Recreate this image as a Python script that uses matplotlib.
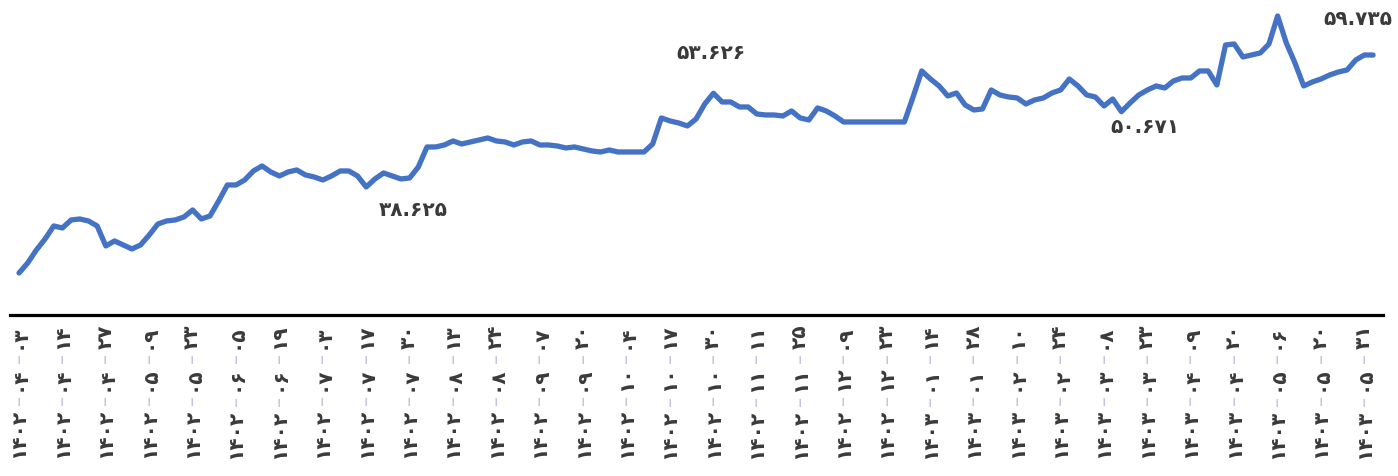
import matplotlib.pyplot as plt
from matplotlib.font_manager import FontProperties

# daily index values
values = [
    24.87, 26.47, 28.55, 30.31, 32.39, 32.07, 33.35, 33.51, 33.19, 32.39,
    29.19, 29.99, 29.35, 28.71, 29.35, 30.95, 32.71, 33.19, 33.35, 33.83,
    34.95, 33.51, 33.99, 36.39, 38.95, 38.95, 39.75, 41.19, 41.99, 41.03,
    40.39, 41.03, 41.35, 40.55, 40.23, 39.75, 40.39, 41.19, 41.19, 40.39,
    38.625, 39.91, 40.87, 40.39, 39.91, 40.07, 41.83, 45.03, 45.03, 45.35,
    45.99, 45.51, 45.83, 46.15, 46.47, 45.99, 45.83, 45.35, 45.83, 45.99,
    45.35, 45.35, 45.19, 44.87, 45.03, 44.71, 44.39, 44.23, 44.55, 44.23,
    44.23, 44.23, 44.23, 45.51, 49.67, 49.19, 48.87, 48.39, 49.51, 51.91,
    53.626, 52.23, 52.23, 51.43, 51.43, 50.31, 50.15, 50.15, 49.99, 50.79,
    49.67, 49.35, 51.27, 50.79, 49.99, 49.03, 49.03, 49.03, 49.03, 49.03,
    49.03, 49.03, 49.03, 53.03, 57.19, 55.91, 54.79, 53.19, 53.67, 51.75,
    50.95, 51.11, 54.15, 53.35, 53.03, 52.87, 51.91, 52.55, 52.87, 53.67,
    54.15, 55.91, 54.79, 53.35, 53.03, 51.59, 52.71, 50.671, 52.07, 53.35,
    54.15, 54.79, 54.47, 55.59, 56.07, 56.07, 57.19, 57.19, 54.95, 61.35,
    61.51, 59.43, 59.75, 60.07, 61.51, 65.99, 61.67, 58.47, 54.79, 55.43,
    55.91, 56.55, 57.03, 57.35, 58.95, 59.75, 59.735,
]

tick_step = 5
tick_labels = [
    '۱۴۰۲-۰۴-۰۳', '۱۴۰۲-۰۴-۱۴', '۱۴۰۲-۰۴-۲۷', '۱۴۰۲-۰۵-۰۹', '۱۴۰۲-۰۵-۲۳',
    '۱۴۰۲-۰۶-۰۵', '۱۴۰۲-۰۶-۱۹', '۱۴۰۲-۰۷-۰۳', '۱۴۰۲-۰۷-۱۷', '۱۴۰۲-۰۷-۳۰',
    '۱۴۰۲-۰۸-۱۳', '۱۴۰۲-۰۸-۲۴', '۱۴۰۲-۰۹-۰۷', '۱۴۰۲-۰۹-۲۰', '۱۴۰۲-۱۰-۰۴',
    '۱۴۰۲-۱۰-۱۷', '۱۴۰۲-۱۰-۳۰', '۱۴۰۲-۱۱-۱۱', '۱۴۰۲-۱۱-۲۵', '۱۴۰۲-۱۲-۰۹',
    '۱۴۰۲-۱۲-۲۳', '۱۴۰۳-۰۱-۱۴', '۱۴۰۳-۰۱-۲۸', '۱۴۰۳-۰۲-۱۰', '۱۴۰۳-۰۲-۲۴',
    '۱۴۰۳-۰۳-۰۸', '۱۴۰۳-۰۳-۲۳', '۱۴۰۳-۰۴-۰۹', '۱۴۰۳-۰۴-۲۰', '۱۴۰۳-۰۵-۰۶',
    '۱۴۰۳-۰۵-۲۰', '۱۴۰۳-۰۵-۳۱',
]

# value labels: (index, text, offset in pixels)
notes = [
    (40, '۳۸.۶۲۵', (47, -23)),
    (80, '۵۳.۶۲۶', (-2, 41)),
    (127, '۵۰.۶۷۱', (24, -15)),
    (156, '۵۹.۷۳۵', (-15, 37)),
]

W, H, DPI = 1398, 477, 100
fig = plt.figure(figsize=(W / DPI, H / DPI), dpi=DPI)
ax = fig.add_axes([10 / W, 1 - 316 / H, 1373 / W, 316 / H])

x = list(range(len(values)))
ax.plot(x, values, color='#4472C4', lw=3.8,
        solid_capstyle='round', solid_joinstyle='round')
ax.set_xlim(-1.04, 157.14)
ax.set_ylim(18.145, 68.705)
for s in ['top', 'left', 'right']:
    ax.spines[s].set_visible(False)
ax.spines['bottom'].set_linewidth(2.3)
ax.spines['bottom'].set_color('black')
ax.set_xticks([])
ax.set_yticks([])

txt_col = '#3a3a3a'
for i, t, (dx, dy) in notes:
    ax.annotate(t, xy=(i, values[i]), xytext=(dx, dy), textcoords='offset pixels',
                ha='center', va='center', fontsize=14.5, fontweight='bold',
                color=txt_col, family='DejaVu Sans')

# tick labels: digits dark, dashes light, stacked from the top down
fp = FontProperties(family='DejaVu Sans', weight='bold', size=14.5)
fp_dash = FontProperties(family='DejaVu Sans', size=14.5)
r = fig.canvas.get_renderer()
def width_pt(s, prop):
    w, _, _ = r.get_text_width_height_descent(s, prop, ismath=False)
    return w * 72 / DPI

pad = 6.0
gap = 2.8
dash = '–'
for k, lab in enumerate(tick_labels):
    xi = k * tick_step
    year, month, day = lab.split('-')
    parts = [(day, fp, txt_col, 0), (dash, fp_dash, '#c4c4dc', gap),
             (month, fp, txt_col, 0), (dash, fp_dash, '#c4c4dc', gap),
             (year, fp, txt_col, 0)]
    off = pad
    for s, prop, col, g in parts:
        off += g
        ax.annotate(s, xy=(xi, 0), xycoords=('data', 'axes fraction'),
                    xytext=(0, -off), textcoords='offset points',
                    rotation=90, ha='center', va='top', color=col,
                    fontproperties=prop, annotation_clip=False)
        off += width_pt(s, prop) + g

fig.savefig('out.png', dpi=DPI)
